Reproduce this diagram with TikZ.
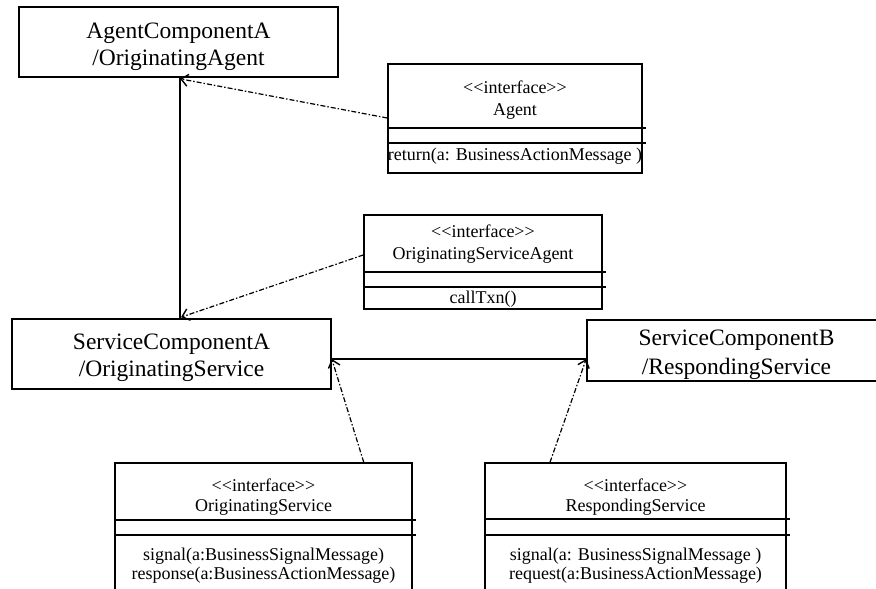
\documentclass[tikz,border=0pt]{standalone}
\usepackage{fontspec}
\setmainfont{Liberation Serif}
\usetikzlibrary{arrows.meta}
\newcommand{\stereo}[1]{<\kern0pt<#1>\kern0pt>}
\begin{document}
\begin{tikzpicture}[x=1pt,y=-1pt,
  compbox/.style={draw, line width=1.6pt, inner sep=0pt},
  ifacebox/.style={draw, line width=1.5pt, inner sep=0pt},
  bigtxt/.style={anchor=base, inner sep=0pt, font=\fontsize{23.5}{27}\selectfont},
  smalltxt/.style={anchor=base, inner sep=0pt, font=\fontsize{18}{20}\selectfont},
  sepline/.style={line width=1.3pt},
  assoc/.style={line width=1.6pt},
  realize/.style={line width=1.2pt, dash pattern=on 5pt off 2pt on 1.5pt off 2pt,
    -{Straight Barb[length=7pt,width=12pt,line width=1.4pt]}},
]
\useasboundingbox (0,0) rectangle (876,589);

% components
\node[compbox, minimum width=319pt, minimum height=70pt] (agentA) at (178.5,42) {};
\node[bigtxt] (agentA1) at (178.5,38) {AgentComponentA};
\node[bigtxt] (agentA2) at (178.5,65) {/OriginatingAgent};

\node[compbox, minimum width=319pt, minimum height=70pt] (svcA) at (171.5,354) {};
\node[bigtxt] (svcA1) at (171.5,349) {ServiceComponentA};
\node[bigtxt] (svcA2) at (171.5,376) {/OriginatingService};

\node[compbox, minimum width=299pt, minimum height=61pt] (svcB) at (736.5,350.5) {};
\node[bigtxt] (svcB1) at (736.5,345) {ServiceComponentB};
\node[bigtxt] (svcB2) at (736.5,374) {/RespondingService};

% interface Agent
\node[ifacebox, minimum width=254pt, minimum height=109pt] (agentI) at (515,118.5) {};
\node[smalltxt] (agentI1) at (515,93) {\stereo{interface}};
\node[smalltxt] (agentI2) at (515,115) {Agent};
\node[smalltxt] (agentI3) at (515,160) {return(a: BusinessActionMessage )};
\draw[sepline] (agentI.west |- 0,128) -- ([xshift=3pt]agentI.east |- 0,128);
\draw[sepline] (agentI.west |- 0,143) -- ([xshift=3pt]agentI.east |- 0,143);

% interface OriginatingServiceAgent
\node[ifacebox, minimum width=238pt, minimum height=94pt] (osaI) at (483,262) {};
\node[smalltxt] (osaI1) at (483,237) {\stereo{interface}};
\node[smalltxt] (osaI2) at (483,259) {OriginatingServiceAgent};
\node[smalltxt] (osaI3) at (483,303) {callTxn()};
\draw[sepline] (osaI.west |- 0,272) -- ([xshift=3pt]osaI.east |- 0,272);
\draw[sepline] (osaI.west |- 0,287) -- ([xshift=3pt]osaI.east |- 0,287);

% interface OriginatingService
\node[ifacebox, minimum width=297pt, minimum height=137pt] (osI) at (263.5,531.5) {};
\node[smalltxt] (osI1) at (263.5,491) {\stereo{interface}};
\node[smalltxt] (osI2) at (263.5,511) {OriginatingService};
\node[smalltxt] (osI3) at (263.5,560) {signal(a:BusinessSignalMessage)};
\node[smalltxt] (osI4) at (263.5,579) {response(a:BusinessActionMessage)};
\draw[sepline] (osI.west |- 0,520) -- ([xshift=3pt]osI.east |- 0,520);
\draw[sepline] (osI.west |- 0,535) -- ([xshift=3pt]osI.east |- 0,535);

% interface RespondingService
\node[ifacebox, minimum width=301pt, minimum height=137pt] (rsI) at (635.5,531.5) {};
\node[smalltxt] (rsI1) at (635.5,491) {\stereo{interface}};
\node[smalltxt] (rsI2) at (635.5,511) {RespondingService};
\node[smalltxt] (rsI3) at (635.5,560) {signal(a: BusinessSignalMessage )};
\node[smalltxt] (rsI4) at (635.5,579) {request(a:BusinessActionMessage)};
\draw[sepline] (rsI.west |- 0,519) -- ([xshift=3pt]rsI.east |- 0,519);
\draw[sepline] (rsI.west |- 0,535) -- ([xshift=3pt]rsI.east |- 0,535);

% associations
\coordinate (aTop) at ([xshift=1.5pt]agentA.south);
\coordinate (aBot) at ([xshift=8.5pt]svcA.north);
\coordinate (aL) at ([yshift=-5pt]svcA.east);
\coordinate (aR) at ([yshift=-8.5pt]svcB.west);
\draw[assoc] (aTop) -- (aBot);
\draw[assoc] (aL) -- (aR);

% realizations
\draw[realize] ([yshift=0.5pt]agentI.west) -- ([yshift=-1pt]aTop);
\draw[realize] ([yshift=7pt]osaI.west) -- ([xshift=1pt,yshift=1pt]aBot);
\draw[realize] ([xshift=-49pt]osI.north east) -- (aL);
\draw[realize] ([xshift=-85.5pt]rsI.north) -- (aR);
\end{tikzpicture}
\end{document}
